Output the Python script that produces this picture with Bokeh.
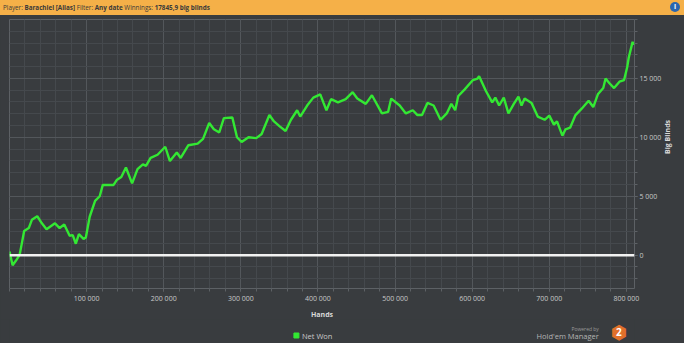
import math
from bokeh.plotting import figure
from bokeh.models import Range1d, FixedTicker, Span, CustomJSTickFormatter, Div
from bokeh.layouts import column
from bokeh.core.properties import value
from bokeh.embed import file_html
from bokeh.resources import INLINE

# ---- data ----
hands_k = [0, 4, 8, 13, 16, 19, 25, 29, 36, 42, 48, 59, 65, 71, 78, 82, 86, 90, 96, 99,
           104, 111, 117, 121, 135, 139, 145, 151, 159, 166, 173, 177, 183, 192, 202, 208,
           217, 222, 232, 244, 251, 259, 265, 272, 278, 289, 295, 301, 310, 320, 327, 337,
           343, 350, 358, 365, 373, 377, 386, 394, 403, 407, 411, 417, 426, 436, 445, 451,
           462, 470, 483, 491, 495, 506, 514, 523, 529, 535, 542, 550, 559, 567, 573, 578,
           582, 590, 601, 607, 609, 618, 626, 630, 635, 641, 647, 654, 660, 664, 668, 677,
           685, 694, 700, 706, 710, 717, 721, 727, 734, 742, 751, 757, 763, 770, 773, 778,
           784, 791, 797, 801, 803, 808, 809.5]
net_won = [300, -850, -500, 0, 1000, 2050, 2300, 3000, 3300, 2700, 2200, 2700, 2300, 2600,
           1650, 1700, 970, 1780, 1380, 1500, 3260, 4600, 5000, 5960, 5960, 6370, 6630, 7440,
           6090, 7300, 7710, 7580, 8250, 8520, 9200, 7990, 8710, 8250, 9330, 9470, 9870,
           11220, 10680, 10410, 11630, 11680, 10010, 9600, 10010, 9930, 10280, 11890, 11350,
           10950, 10540, 11490, 12300, 11760, 12700, 13370, 13650, 12970, 12300, 13240, 12970,
           13240, 13830, 13290, 12840, 13570, 12030, 12160, 13290, 12700, 12030, 12300, 11890,
           11890, 12920, 12700, 11490, 12030, 12840, 12300, 13510, 14050, 14860, 14990, 15180,
           13910, 12970, 13370, 12700, 13370, 12030, 12840, 13460, 12700, 13290, 12920, 11760,
           11490, 11840, 11080, 11350, 10140, 10680, 10820, 11890, 12430, 13110, 12570, 13650,
           14180, 14990, 14590, 14180, 14720, 14860, 15940, 16750, 18100, 17846]
hands = [h * 1000 for h in hands_k]

x_major = [100000, 200000, 300000, 400000, 500000, 600000, 700000, 800000]
x_minor = [0, 20000, 40000, 60000, 80000, 100000, 120000, 140000, 160000, 180000, 200000,
           220000, 240000, 260000, 280000, 300000, 320000, 340000, 360000, 380000, 400000,
           420000, 440000, 460000, 480000, 500000, 520000, 540000, 560000, 580000, 600000,
           620000, 640000, 660000, 680000, 700000, 720000, 740000, 760000, 780000, 800000]
y_major = [0, 5000, 10000, 15000]
y_minor = [-2000, -1000, 0, 1000, 2000, 3000, 4000, 5000, 6000, 7000, 8000, 9000, 10000,
           11000, 12000, 13000, 14000, 15000, 16000, 17000, 18000, 19000, 20000]

series_name = "Net Won"

BG = "#393c3f"
GREEN = "#33e833"
FONT = "Open Sans"

header = Div(
    text=('<span style="position:absolute;left:3px;top:1px;white-space:nowrap;">'
          'Player: <b>Barachiel [Alias]</b> Filter: <b>Any date</b> Winnings: '
          '<b>17845,9 big blinds</b></span>'
          '<span style="position:absolute;left:670px;top:2px;width:10px;height:10px;'
          'border-radius:50%;background:#2a66b0;color:white;font-size:7px;line-height:10px;'
          'text-align:center;font-weight:bold;">i</span>'),
    width=684, height=15, margin=(0, 0, 0, 0),
    styles={"background-color": "#f5b048", "font-family": FONT, "font-size": "6.3px",
            "color": "#3a3a3a", "line-height": "13px", "overflow": "hidden",
            "position": "relative"})

p = figure(width=684, height=306, output_backend="svg", toolbar_location=None,
           x_range=Range1d(0, 810500), y_range=Range1d(-2830, 20000),
           y_axis_location="right",
           min_border_left=9, min_border_right=50, min_border_top=4, min_border_bottom=33,
           background_fill_color=BG, border_fill_color=BG,
           outline_line_color="#5d6165", outline_line_width=1,
           styles={"background-color": BG})

fmt = CustomJSTickFormatter(code=r"return tick.toFixed(0).replace(/\B(?=(\d{3})+(?!\d))/g, ' ');")

xa = p.xaxis[0]
xa.ticker = FixedTicker(ticks=x_major, minor_ticks=x_minor)
xa.formatter = fmt
ya = p.yaxis[0]
ya.ticker = FixedTicker(ticks=y_major, minor_ticks=y_minor)
ya.formatter = fmt

for ax in (xa, ya):
    ax.axis_line_color = None
    ax.major_tick_in = 0
    ax.minor_tick_in = 0
    ax.major_tick_out = 3
    ax.minor_tick_out = 3
    ax.major_tick_line_color = "#5d6165"
    ax.minor_tick_line_color = "#5d6165"
    ax.major_label_text_font = FONT
    ax.major_label_text_font_size = "7px"
    ax.major_label_text_color = "#c8c8c8"
    ax.major_label_standoff = 2
    ax.axis_label_text_font = FONT
    ax.axis_label_text_font_size = "7px"
    ax.axis_label_text_font_style = "bold"
    ax.axis_label_text_color = "#d8d8d8"

xa.axis_label = "Hands"
xa.axis_label_standoff = 4
ya.axis_label = "Big Blinds"
ya.axis_label_standoff = 3
ya.axis_label_orientation = math.pi / 2

p.xgrid.grid_line_color = "#53575b"
p.ygrid.grid_line_color = "#53575b"
p.xgrid.minor_grid_line_color = "#45494d"
p.ygrid.minor_grid_line_color = "#45494d"

p.line(hands, net_won, line_color=GREEN, line_width=2.4)
p.add_layout(Span(location=0, dimension="width", line_color="#f2f2f2", line_width=2.5))

# ---- footer: legend and "Powered by" logo ----
f = figure(width=684, height=24, output_backend="svg", toolbar_location=None,
           x_range=Range1d(0, 684), y_range=Range1d(24, 0),
           min_border=0, background_fill_color=BG, border_fill_color=BG,
           outline_line_color=None, margin=(-2, 0, 0, 0),
           styles={"background-color": BG})
f.axis.visible = False
f.grid.visible = False

f.scatter(x=[314], y=[16], marker="square", size=5, fill_color=GREEN, line_color=GREEN)
f.text(x=[320], y=[16], text=[series_name], text_font=value(FONT), text_font_size="7.5px",
       text_color="#c8c8c8", text_baseline="middle", text_align="left")
f.text(x=[645], y=[9], text=["Powered by"], text_font=value(FONT), text_font_size="5px",
       text_color="#9a9a9a", text_baseline="middle", text_align="right")
f.text(x=[645], y=[16], text=["Hold'em Manager"], text_font=value(FONT),
       text_font_size="7.5px", text_color="#b4b4b4", text_baseline="middle", text_align="right")
f.text(x=[667], y=[12], text=["\u2b22"], text_font=value("DejaVu Sans"),
       text_font_size="19px", text_color="#e0702a", text_baseline="middle", text_align="center")
f.text(x=[667], y=[12.5], text=["2"], text_font=value(FONT), text_font_size="10px",
       text_font_style="bold", text_color="#ffffff", text_baseline="middle", text_align="center")

layout = column(header, p, f, spacing=0, styles={"background-color": BG})
open("out.html", "w").write(file_html(layout, INLINE))
